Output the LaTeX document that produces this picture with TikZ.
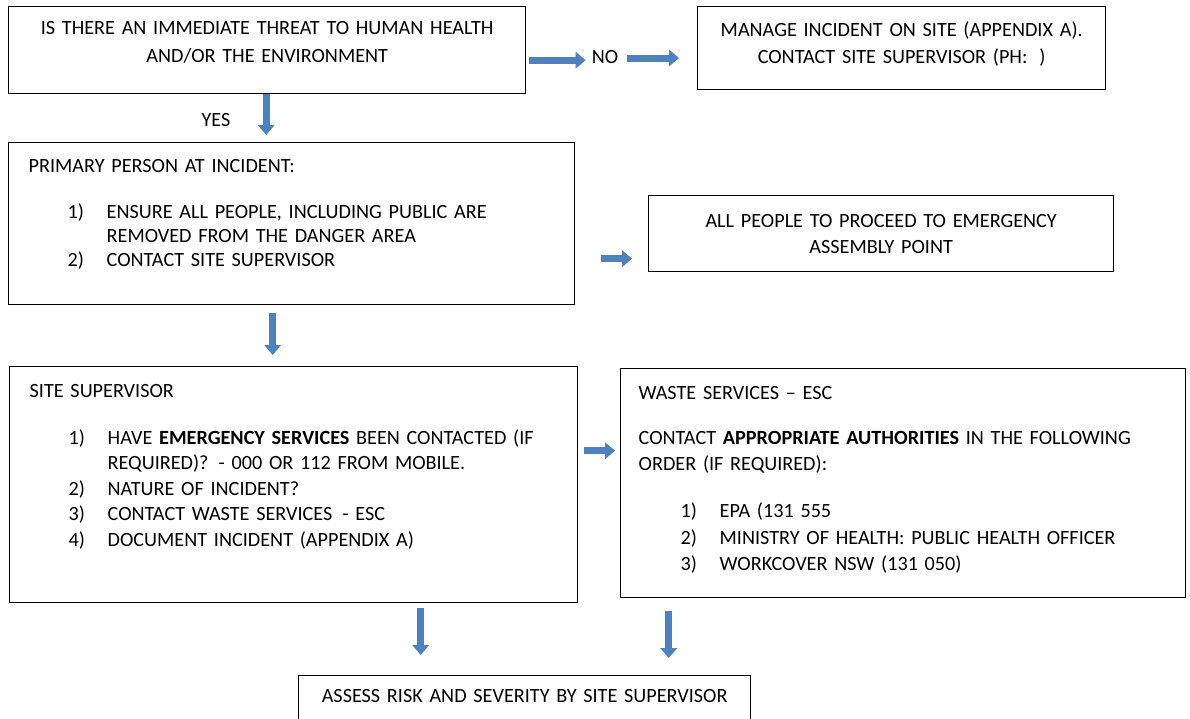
\documentclass[tikz,border=0pt]{standalone}
\usepackage{fontspec}
\setmainfont{Carlito}
\usetikzlibrary{arrows.meta}

\definecolor{flowblue}{RGB}{79,129,189}
\newcommand{\itm}[3][39pt]{\hspace*{#1}\makebox[39pt][l]{#2}#3}

\tikzset{
	box/.style={draw, line width=1.4pt, anchor=north west, inner ysep=0pt,
		font=\fontsize{20.2}{25}\selectfont},
	flow/.style={line width=7pt, flowblue, -{Triangle[length=10pt,width=17pt,line width=0pt]}}
}

\begin{document}
\begin{tikzpicture}[x=1pt,y=-1pt]
	\useasboundingbox (0,0) rectangle (1190,718);

	% first question
	\node[box, inner xsep=0pt, text width=517pt, align=center, text height=28pt, text depth=59pt] (q) at (8,6)
		{IS THERE AN IMMEDIATE THREAT TO HUMAN HEALTH\\[3pt] AND/OR THE ENVIRONMENT};
	\node[box, inner xsep=0pt, text width=408pt, align=center, text height=29.6pt, text depth=53.4pt] (m) at (697,6)
		{MANAGE INCIDENT ON SITE (APPENDIX A).\\[2pt] CONTACT SITE SUPERVISOR (PH:\hspace{12pt})};
	\node[font=\fontsize{20.2}{25}\selectfont, inner sep=0pt] (no) at (605,57) {NO};
	\node[font=\fontsize{20.2}{25}\selectfont, inner sep=0pt] (yes) at (216,120) {YES};

	% primary person
	\node[box, inner xsep=20pt, text width=526pt, align=left, text height=29.6pt, text depth=132.4pt] (p) at (8,142)
		{PRIMARY PERSON AT INCIDENT:\\[21pt]
		\itm{1)}{ENSURE ALL PEOPLE, INCLUDING PUBLIC ARE}\\[-1pt]
		\hspace*{78pt}REMOVED FROM THE DANGER AREA\\[-1pt]
		\itm{2)}{CONTACT SITE SUPERVISOR}};
	\node[box, inner xsep=0pt, text width=465pt, align=center, text height=31.6pt, text depth=44.4pt] (a) at (648,195)
		{ALL PEOPLE TO PROCEED TO EMERGENCY\\[1pt] ASSEMBLY POINT};

	% site supervisor
	\node[box, inner xsep=20pt, text width=528pt, align=left, text height=30.6pt, text depth=205.4pt] (s) at (9,366)
		{SITE SUPERVISOR\\[22pt]
		\itm{1)}{HAVE \textbf{EMERGENCY SERVICES} BEEN CONTACTED (IF}\\[0.5pt]
		\hspace*{78pt}REQUIRED)?\enspace- 000 OR 112 FROM MOBILE.\\[0.5pt]
		\itm{2)}{NATURE OF INCIDENT?}\\[0.5pt]
		\itm{3)}{CONTACT WASTE SERVICES\enspace- ESC}\\[0.5pt]
		\itm{4)}{DOCUMENT INCIDENT (APPENDIX A)}};
	\node[box, inner xsep=18pt, text width=529pt, align=left, text height=30.6pt, text depth=198.4pt] (w) at (620,368)
		{WASTE SERVICES -- ESC\\[20pt]
		CONTACT \textbf{APPROPRIATE AUTHORITIES} IN THE FOLLOWING\\[1pt]
		ORDER (IF REQUIRED):\\[22pt]
		\itm[42pt]{1)}{EPA (131 555}\\[2pt]
		\itm[42pt]{2)}{MINISTRY OF HEALTH: PUBLIC HEALTH OFFICER}\\[1pt]
		\itm[42pt]{3)}{WORKCOVER NSW (131 050)}};

	% result
	\node[box, inner xsep=0pt, text width=452pt, align=center, text height=26.6pt, text depth=40pt] (r) at (298,675)
		{ASSESS RISK AND SEVERITY BY SITE SUPERVISOR};

	% arrows
	\draw[flow, shorten <=3pt, shorten >=6pt] ([yshift=-10pt]q.east) -- ([yshift=-10pt]q.east -| no.west);
	\draw[flow, shorten <=9pt, shorten >=18pt] ([yshift=-1pt]no.east) -- ([yshift=-1pt]no.east -| m.west);
	\draw[flow, shorten >=7pt] ([xshift=-1pt]q.south) -- ([xshift=-1pt]q.south |- p.north);
	\draw[flow, shorten <=26pt, shorten >=16pt] ([yshift=-35pt]p.east) -- ([yshift=-35pt]p.east -| a.west);
	\draw[flow, shorten <=8pt, shorten >=11pt] ([xshift=-19pt]p.south) -- ([xshift=-19pt]p.south |- s.north);
	\draw[flow, shorten <=6pt, shorten >=5pt] ([yshift=34pt]s.east) -- ([yshift=34pt]s.east -| w.west);
	\draw[flow, shorten <=5pt, shorten >=20pt] ([xshift=127pt]s.south) -- ([xshift=127pt]s.south |- r.north);
	\draw[flow, shorten <=13pt, shorten >=17pt] ([xshift=-234.5pt]w.south) -- ([xshift=-234.5pt]w.south |- r.north);
\end{tikzpicture}
\end{document}
